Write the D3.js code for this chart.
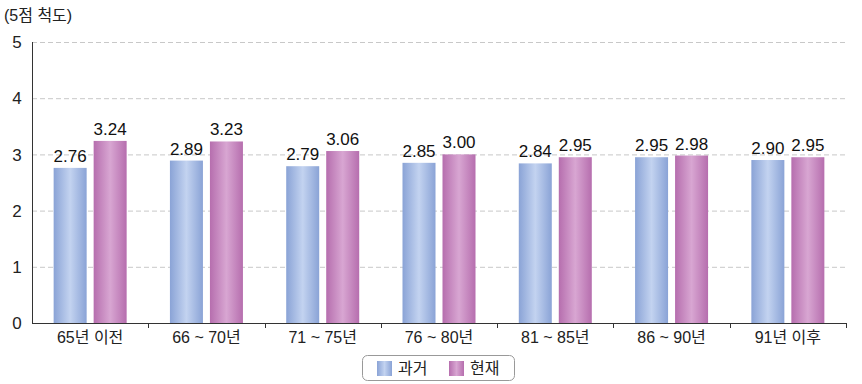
<!DOCTYPE html>
<html><head><meta charset="utf-8">
<script src="https://cdn.jsdelivr.net/npm/d3@7/dist/d3.min.js"></script>
<style>body{margin:0;background:#fff;}svg{display:block;font-family:"Liberation Sans","Noto Sans CJK KR",sans-serif;}</style>
</head><body>
<svg id="c" width="862" height="384"></svg>
<script>
const categories = ["65년 이전","66 ~ 70년","71 ~ 75년","76 ~ 80년","81 ~ 85년","86 ~ 90년","91년 이후"];
const seriesNames = ["과거","현재"];
const past = [2.76,2.89,2.79,2.85,2.84,2.95,2.90];
const present = [3.24,3.23,3.06,3.00,2.95,2.98,2.95];
const yTicks = [0,1,2,3,4,5];
const unitLabel = "(5점 척도)";

const svg = d3.select("#c");
const L=32, R=846, T=42, B=323;
const x = d3.scaleBand().domain(categories).range([L,R]).paddingInner(0).paddingOuter(0);
const y = d3.scaleLinear().domain([0,5]).range([B,T]);
const bw = 33, gapIn = 7;
const offset0 = (x.bandwidth() - (2*bw+gapIn))/2;

const defs = svg.append("defs");
function grad(id, edge, mid){
  const g = defs.append("linearGradient").attr("id",id).attr("x1","0").attr("x2","1").attr("y1","0").attr("y2","0");
  g.append("stop").attr("offset","0%").attr("stop-color",edge);
  g.append("stop").attr("offset","50%").attr("stop-color",mid);
  g.append("stop").attr("offset","100%").attr("stop-color",edge);
}
grad("gB","#8aa3d6","#c3d3f0");
grad("gP","#b66eae","#d8a6d2");
const fills = ["url(#gB)","url(#gP)"];

// gridlines
svg.append("g").selectAll("line").data(yTicks.filter(d=>d>0)).join("line")
  .attr("x1",L).attr("x2",R).attr("y1",d=>y(d)+0.5).attr("y2",d=>y(d)+0.5)
  .attr("stroke","#c8c8c8").attr("stroke-dasharray","5,3").attr("stroke-width",1);

// y tick labels
svg.append("g").selectAll("text").data(yTicks).join("text")
  .attr("x",17).attr("y",d=>y(d)).attr("dy","0.36em").attr("text-anchor","middle")
  .attr("font-size",17).attr("fill","#222").text(d=>d);

svg.append("text").attr("x",4).attr("y",21).attr("font-size",16).attr("fill","#222").text(unitLabel);

// bars
const data = [past,present];
data.forEach((arr,si)=>{
  const g = svg.append("g");
  g.selectAll("rect").data(arr).join("rect")
    .attr("x",(d,i)=>x(categories[i])+offset0+si*(bw+gapIn))
    .attr("y",d=>y(d)).attr("width",bw).attr("height",d=>B-y(d))
    .attr("fill",fills[si]);
  g.selectAll("text").data(arr).join("text")
    .attr("x",(d,i)=>x(categories[i])+offset0+si*(bw+gapIn)+bw/2)
    .attr("y",d=>y(d)-6).attr("text-anchor","middle")
    .attr("font-size",17).attr("fill","#111").text(d=>d.toFixed(2));
});

// axes
svg.append("line").attr("x1",L+0.5).attr("x2",L+0.5).attr("y1",T).attr("y2",B).attr("stroke","#333");
svg.append("line").attr("x1",L).attr("x2",R).attr("y1",B+0.5).attr("y2",B+0.5).attr("stroke","#333");
const bounds = categories.map(c=>x(c)+x.bandwidth());
svg.append("g").selectAll("line").data(bounds).join("line")
  .attr("x1",d=>Math.round(d)+0.5).attr("x2",d=>Math.round(d)+0.5).attr("y1",B).attr("y2",B+5).attr("stroke","#333");
svg.append("g").selectAll("text").data(categories).join("text")
  .attr("x",d=>x(d)+x.bandwidth()/2).attr("y",B+20).attr("text-anchor","middle")
  .attr("font-size",16).attr("fill","#222").text(d=>d);

// legend
const lg = svg.append("g");
lg.append("rect").attr("x",362.5).attr("y",355.5).attr("width",152).attr("height",25).attr("rx",5)
  .attr("fill","#fff").attr("stroke","#999");
const lx = [377,449];
seriesNames.forEach((n,i)=>{
  lg.append("rect").attr("x",lx[i]).attr("y",361).attr("width",15).attr("height",15).attr("fill",fills[i]);
  lg.append("text").attr("x",lx[i]+21).attr("y",374).attr("font-size",16).attr("fill","#222").text(n);
});
</script>
</body></html>
